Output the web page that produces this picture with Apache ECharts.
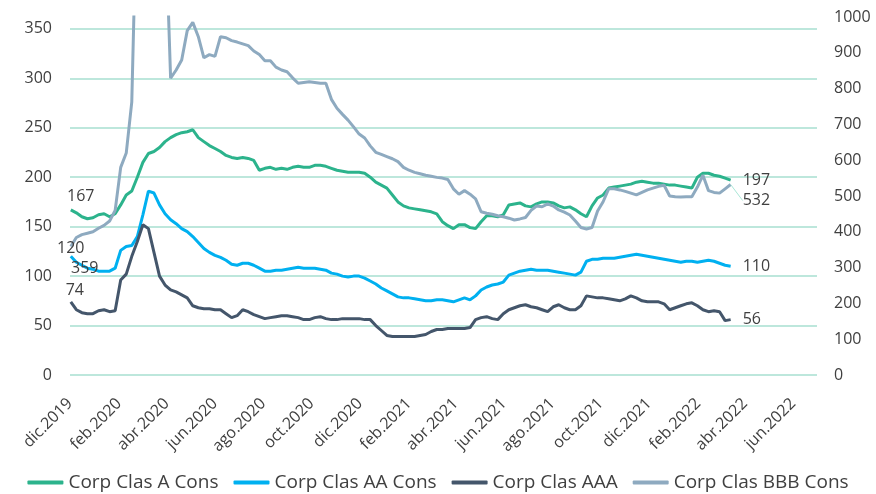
<!DOCTYPE html>
<html>
<head>
<meta charset="utf-8">
<title>Diferenciales corporativos</title>
<script src="https://cdn.jsdelivr.net/npm/echarts@6/dist/echarts.min.js"></script>
<style>
  html, body { margin: 0; padding: 0; background: #fff; }
  #chart { width: 876px; height: 494px; }
</style>
</head>
<body>
<div id="chart"></div>
<script>
// Fechas semanales (lunes) desde dic.2019 hasta mar.2022
const weeks = [];
for (let i = 0; i < 120; i++) {
  const d = new Date(Date.UTC(2019, 11, 2 + 7 * i));
  weeks.push(d.toISOString().slice(0, 10));
}

// Eje izquierdo
const corpA = [167,164,160,158,159,162,163,160,163,172,182,186,200,215,224,226,230,236,240,243,
  245,246,248,240,236,232,229,226,222,220,219,220,219,217,207,209,210,208,209,208,
  210,211,210,210,212,212,211,209,207,206,205,205,205,204,200,195,192,189,182,175,
  171,169,168,167,166,165,163,155,151,148,152,152,149,148,155,161,161,160,162,172,
  173,174,171,170,173,175,175,174,171,169,170,167,163,160,171,179,182,189,190,191,
  192,193,195,196,195,194,194,193,192,192,191,190,189,200,204,204,202,201,199,197];

const corpAA = [120,114,111,108,107,105,105,105,108,126,130,131,140,162,186,184,172,163,157,153,
  148,145,140,134,128,124,121,119,116,112,111,113,113,111,108,105,105,106,106,107,
  108,109,108,108,108,107,106,103,102,100,99,100,100,98,95,92,88,85,82,79,
  78,78,77,76,75,75,76,76,75,74,76,78,76,80,86,89,91,92,94,101,
  103,105,106,107,106,106,106,105,104,103,102,101,104,115,117,117,118,118,118,119,
  120,121,122,121,120,119,118,117,116,115,114,115,115,114,115,116,115,113,111,110];

const corpAAA = [74,66,63,62,62,65,66,64,65,96,102,120,135,152,148,124,100,91,86,84,
  81,78,70,68,67,67,66,66,62,58,60,66,64,61,59,57,58,59,60,60,
  59,58,56,56,58,59,57,56,56,57,57,57,57,56,56,50,45,40,39,39,
  39,39,39,40,41,44,46,46,47,47,47,47,48,56,58,59,57,56,62,66,
  68,70,71,69,68,66,64,69,71,68,66,66,70,80,79,78,78,77,76,75,
  77,80,78,75,74,74,74,72,66,68,70,72,73,70,66,64,65,64,55,56];

// Eje derecho (los valores por encima de 1000 quedan recortados)
const corpBBB = [359,384,392,396,400,410,418,430,460,580,620,763,1400,1500,1500,1450,1400,1300,829,852,
  880,962,985,945,886,895,890,945,942,934,930,925,920,905,895,878,878,860,852,847,
  830,815,817,819,817,815,815,770,745,728,712,693,673,662,640,622,616,610,604,596,
  580,572,566,562,558,555,552,550,546,520,505,515,505,492,456,452,449,445,442,438,
  433,436,440,460,472,470,478,472,461,455,447,430,412,408,412,458,484,520,520,517,
  513,508,503,510,517,522,527,530,500,498,497,498,498,525,558,515,510,508,520,532];

const seriesNames = ['Corp Clas A Cons', 'Corp Clas AA Cons', 'Corp Clas AAA', 'Corp Clas BBB Cons'];
const colors = ['#2cb38c', '#00b0f0', '#44566b', '#8eaac0'];

const tickDates = ['2019-12-01','2020-02-01','2020-04-01','2020-06-01','2020-08-01','2020-10-01',
  '2020-12-01','2021-02-01','2021-04-01','2021-06-01','2021-08-01','2021-10-01',
  '2021-12-01','2022-02-01','2022-04-01','2022-06-01'];
const tickLabels = ['dic.2019','feb.2020','abr.2020','jun.2020','ago.2020','oct.2020',
  'dic.2020','feb.2021','abr.2021','jun.2021','ago.2021','oct.2021',
  'dic.2021','feb.2022','abr.2022','jun.2022'];
// líneas de rejilla del eje izquierdo
const gridValues = [0, 50, 100, 150, 200, 250, 300, 350];

const txt = '#404040';
const font = 'Open Sans';
const gridColor = '#b8e6da';
const toMs = (d) => Date.parse(d + 'T00:00:00Z');
const tickTimes = tickDates.map(toMs);

// etiquetas de inicio y fin de cada serie
const startLabels = [
  { position: 'top', distance: 5, offset: [10, 0] },
  { position: 'top', distance: 0, offset: [0, 0] },
  { position: 'top', distance: 3, offset: [4, 0] },
  { position: 'bottom', distance: 14 }
];

function buildData(values, idx) {
  const last = values.length - 1;
  return values.map((v, i) => {
    const x = toMs(weeks[i]);
    if (i === 0) {
      return { value: [x, v], label: Object.assign({ show: true }, startLabels[idx]) };
    }
    if (i === last) {
      const item = { value: [x, v], label: { show: true, position: 'right', distance: 12 } };
      if (idx === 3) item.labelLine = { show: true, lineStyle: { color: '#a9e6d6', width: 1 } };
      return item;
    }
    return [x, v];
  });
}

const chart = echarts.init(document.getElementById('chart'));

const option = {
  animation: false,
  textStyle: { fontFamily: font },
  color: colors,
  grid: { left: 70, right: 59, top: 17, bottom: 119, containLabel: false, outerBoundsMode: 'none' },
  legend: {
    data: seriesNames,
    top: 468,
    left: 'center',
    icon: 'roundRect',
    itemWidth: 36,
    itemHeight: 4,
    itemGap: 15,
    textStyle: { color: txt, fontSize: 19, fontFamily: font }
  },
  xAxis: {
    type: 'value',
    min: toMs('2019-12-01'),
    max: toMs('2022-07-01'),
    axisLine: { show: false },
    axisTick: { show: false },
    splitLine: { show: false },
    axisLabel: {
      customValues: tickTimes,
      rotate: 45,
      margin: 26,
      color: txt,
      fontSize: 16,
      fontFamily: font,
      formatter: (value) => {
        const i = tickTimes.indexOf(value);
        return i >= 0 ? tickLabels[i] : '';
      }
    }
  },
  yAxis: [
    {
      type: 'value',
      min: 0,
      max: 362,
      interval: 50,
      axisLine: { show: false },
      axisTick: { show: false },
      splitLine: { show: true, showMaxLine: false, lineStyle: { color: gridColor, width: 1.5 } },
      axisLabel: {
        showMaxLabel: false,
        margin: 18,
        color: txt,
        fontSize: 16,
        fontFamily: font,
        formatter: (v) => (v % 50 === 0 ? String(v) : '')
      }
    },
    {
      type: 'value',
      min: 0,
      max: 1000,
      interval: 100,
      axisLine: { show: false },
      axisTick: { show: false },
      splitLine: { show: false },
      axisLabel: { margin: 17, color: txt, fontSize: 16, fontFamily: font, formatter: (v) => String(v) }
    }
  ],
  series: [corpA, corpAA, corpAAA, corpBBB].map((vals, idx) => ({
    name: seriesNames[idx],
    type: 'line',
    yAxisIndex: idx === 3 ? 1 : 0,
    data: buildData(vals, idx),
    showSymbol: true,
    symbol: 'circle',
    symbolSize: 0,
    lineStyle: { width: 3, color: colors[idx] },
    itemStyle: { color: colors[idx] },
    label: {
      color: txt,
      fontSize: 16,
      fontFamily: font,
      formatter: (p) => String(p.value[1])
    },
    labelLayout: idx === 3
      ? (p) => (p.dataIndex === vals.length - 1 ? { dy: 16 } : { dx: 14 })
      : undefined,
    markLine: idx === 0 ? {
      z: 1,
      silent: true,
      symbol: ['none', 'none'],
      label: { show: false },
      lineStyle: { color: gridColor, width: 1.5, type: 'solid', opacity: 1 },
      emphasis: { disabled: true },
      data: gridValues.map(v => ({ yAxis: v }))
    } : undefined,
    emphasis: { disabled: true },
    clip: true
  }))
};

chart.setOption(option);
</script>
</body>
</html>
